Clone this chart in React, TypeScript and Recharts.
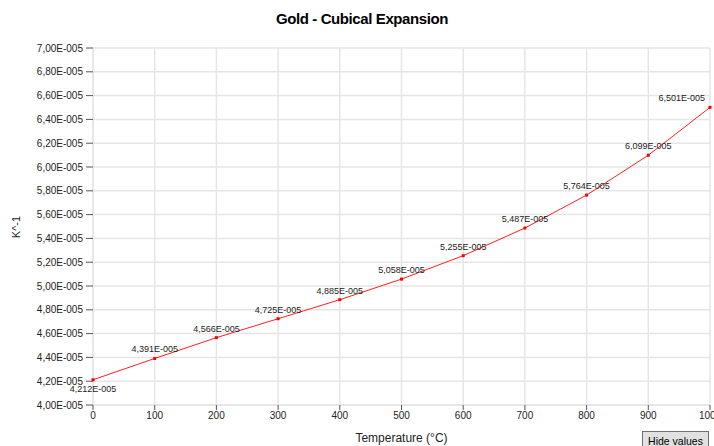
import { LineChart, Line, XAxis, YAxis, CartesianGrid, LabelList } from "recharts";

const temps = [0, 100, 200, 300, 400, 500, 600, 700, 800, 900, 1000];
const expansion = [
  4.212e-5, 4.391e-5, 4.566e-5, 4.725e-5, 4.885e-5, 5.058e-5, 5.255e-5,
  5.487e-5, 5.764e-5, 6.099e-5, 6.501e-5,
];
const yTicks = [
  4.0e-5, 4.2e-5, 4.4e-5, 4.6e-5, 4.8e-5, 5.0e-5, 5.2e-5, 5.4e-5, 5.6e-5,
  5.8e-5, 6.0e-5, 6.2e-5, 6.4e-5, 6.6e-5, 6.8e-5, 7.0e-5,
];

const data = temps.map((t, i) => ({ temp: t, value: expansion[i] }));

const FONT = "'Liberation Sans', Arial, sans-serif";

// 4.212e-5 -> "4,212E-005"
const fmt = (v: number, digits: number) =>
  (v / 1e-5).toFixed(digits).replace(".", ",") + "E-005";

const Marker = (props: any) => {
  const { cx, cy } = props;
  if (cx == null || cy == null) return null;
  return <rect x={cx - 1.5} y={cy - 1.5} width={3} height={3} fill="#ff0000" />;
};

const ValueLabel = (props: any) => {
  const { x, y, value, index } = props;
  const last = index === data.length - 1;
  let tx = x;
  let ty = y - 6;
  let anchor: "middle" | "end" = "middle";
  if (index === 0) ty = y + 12;
  if (last) {
    tx = x - 5;
    anchor = "end";
  }
  return (
    <text x={tx} y={ty} textAnchor={anchor} fontSize={9} fill="#222" fontFamily={FONT}>
      {fmt(value, 3)}
    </text>
  );
};

export default function App() {
  return (
    <div
      style={{
        position: "absolute",
        left: 0,
        top: 0,
        width: 714,
        height: 446,
        overflow: "hidden",
        background: "#fff",
        fontFamily: FONT,
      }}
    >
      <div
        style={{
          position: "absolute",
          top: 10,
          left: 0,
          width: 724,
          textAlign: "center",
          fontWeight: "bold",
          fontSize: 15,
          letterSpacing: -0.4,
          color: "#000",
        }}
      >
        Gold - Cubical Expansion
      </div>

      <div style={{ position: "absolute", left: 0, top: 0 }}>
        <LineChart
          width={740}
          height={446}
          data={data}
          margin={{ top: 48, right: 30, bottom: 0, left: 0 }}
        >
          <CartesianGrid stroke="#e6e6e6" strokeWidth={1.5} />
          <XAxis
            dataKey="temp"
            type="number"
            domain={[0, 1000]}
            ticks={temps}
            height={41}
            tickSize={5}
            tickMargin={2}
            axisLine={{ stroke: "#e6e6e6", strokeWidth: 1.5 }}
            tickLine={{ stroke: "#555" }}
            tick={{ fontSize: 10, fill: "#222", fontFamily: FONT }}
            label={{
              value: "Temperature (°C)",
              position: "insideBottom",
              offset: 4,
              fontSize: 12,
              fill: "#222",
              fontFamily: FONT,
            }}
          />
          <YAxis
            type="number"
            domain={[4e-5, 7e-5]}
            ticks={yTicks}
            width={93}
            tickSize={7}
            tickMargin={3}
            interval={0}
            axisLine={{ stroke: "#e6e6e6", strokeWidth: 1.5 }}
            tickLine={{ stroke: "#555" }}
            tick={{ fontSize: 10, fill: "#222", fontFamily: FONT }}
            tickFormatter={(v: number) => fmt(v, 2)}
            label={{
              content: () => (
                <text
                  x={16}
                  y={227}
                  transform="rotate(-90, 16, 227)"
                  textAnchor="middle"
                  dominantBaseline="central"
                  fontSize={11}
                  fill="#222"
                  fontFamily={FONT}
                >
                  K^-1
                </text>
              ),
            }}
          />
          <Line
            dataKey="value"
            stroke="#ff2020"
            strokeWidth={1}
            dot={<Marker />}
            activeDot={false}
            isAnimationActive={false}
          >
            <LabelList dataKey="value" content={<ValueLabel />} />
          </Line>
        </LineChart>
      </div>

      <div
        style={{
          position: "absolute",
          left: 642,
          top: 431,
          width: 67,
          height: 20,
          background: "#e1e1e1",
          border: "1px solid #707070",
          fontSize: 10.5,
          color: "#000",
          textAlign: "center",
          lineHeight: "18px",
          boxSizing: "border-box",
          whiteSpace: "nowrap",
          fontFamily: FONT,
        }}
      >
        Hide values
      </div>
    </div>
  );
}
